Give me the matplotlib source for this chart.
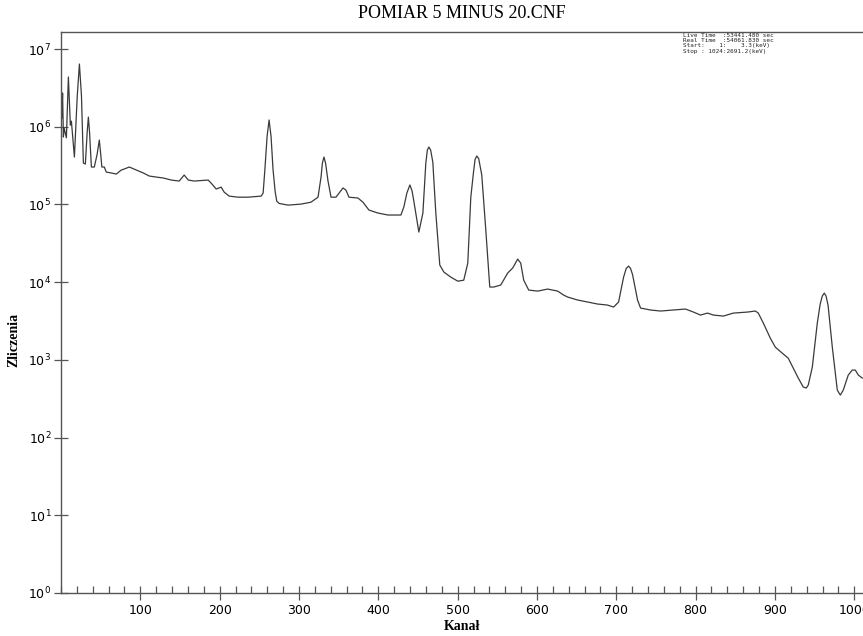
import matplotlib
matplotlib.use("Agg")
import matplotlib.pyplot as plt
from matplotlib.ticker import MultipleLocator, LogLocator, NullLocator

# spectrum (channel, counts)
channel = [1, 2, 3, 4, 6.8, 9.3, 11.8, 13.1, 16.9, 20.5, 23.2, 25.8, 28.2, 30.7, 33, 34.5,
           36, 38.3, 42, 45.5, 48.3, 50, 51.5, 54.6, 57, 63.4, 69.7, 76, 79.8, 86.1, 94.9,
           103.7, 111.3, 120.1, 128.9,
           139, 149, 155.3, 160.4, 168, 185.5, 189.3, 195.6, 201.9, 205.7, 212, 223.3,
           235.9, 252.3, 254.8, 257, 259.8, 262.3, 264.8, 267.3, 270, 272, 275, 286.2,
           302.6, 315.2, 324, 327.8, 329.5, 331.5, 333.5, 336.6, 340.4, 346.6, 355.5,
           359.2, 363, 374.3,
           380.6, 388.2, 399.5, 412.1, 428.5, 432.2, 436, 439.8, 442.5, 444.8, 451.1,
           456.2, 459.9, 461.8, 463.7, 466, 468.7, 472.5, 477.5, 482.6, 491.4, 500.2,
           507.7, 512.8, 516.6, 520, 522, 524.1, 526.5, 530.4, 535.5, 540.5, 545.5, 554.3,
           563.1, 569.4, 575.7, 579.5, 583.3, 589.6,
           600.9, 613.5, 626.1, 633.6, 638.7, 651.3, 663.9, 676.4, 689, 696.6, 702.9,
           709.2, 712.5, 715.5, 718, 720.5, 726.8, 730.6, 743.2, 755.8, 772.1, 787.2,
           797.3, 806.1, 814.9, 822.5, 835, 847.6, 865.2, 875.3, 879, 885.3, 894.1, 900.4,
           909.2, 916.8, 923.1, 929.4, 935.7, 939.5, 942, 947.1, 953.4, 957, 959.6, 962.2,
           964.5, 967, 972.3, 978.6, 982.4, 986.1, 992.4, 997.5, 1001.3, 1005.1, 1010.1]
counts = [1.29e6, 2.72e6, 7.37e5, 9.6e5, 7.2e5, 4.36e6, 1.05e6, 1.18e6, 4.07e5, 2.5e6,
          6.41e6, 2.5e6, 3.41e5, 3.31e5, 8.5e5, 1.33e6, 8.5e5, 3.03e5, 3.03e5, 4.4e5,
          6.74e5, 4.5e5, 3.03e5, 3.03e5, 2.61e5, 2.54e5, 2.46e5, 2.77e5, 2.86e5, 3.03e5,
          2.77e5, 2.54e5, 2.32e5, 2.25e5, 2.19e5,
          2.06e5, 2.0e5, 2.39e5, 2.06e5, 2.0e5, 2.06e5, 1.88e5, 1.58e5, 1.67e5, 1.44e5,
          1.28e5, 1.24e5, 1.24e5, 1.28e5, 1.40e5, 2.8e5, 7.5e5, 1.22e6, 7.5e5, 2.8e5,
          1.45e5, 1.1e5, 1.03e5, 9.8e4, 1.01e5, 1.07e5, 1.24e5, 2.25e5, 3.4e5, 4.07e5,
          3.4e5, 2.0e5, 1.24e5, 1.24e5, 1.63e5, 1.53e5, 1.24e5, 1.21e5,
          1.07e5, 8.47e4, 7.75e4, 7.31e4, 7.31e4, 9.27e4, 1.4e5, 1.78e5, 1.5e5, 1.1e5,
          4.41e4, 7.75e4, 3.41e5, 5.0e5, 5.48e5, 5.0e5, 3.5e5, 7.75e4, 1.66e4, 1.35e4,
          1.16e4, 1.03e4, 1.06e4, 1.76e4, 1.24e5, 2.6e5, 3.8e5, 4.2e5, 3.9e5, 2.4e5,
          4.69e4, 8.65e3, 8.65e3, 9.18e3, 1.31e4, 1.52e4, 1.98e4, 1.76e4, 1.06e4, 7.91e3,
          7.67e3, 8.15e3, 7.67e3, 6.82e3, 6.43e3, 5.89e3, 5.55e3, 5.23e3, 5.07e3, 4.78e3,
          5.55e3, 1.16e4, 1.5e4, 1.61e4, 1.5e4, 1.25e4, 5.89e3, 4.64e3, 4.38e3, 4.25e3,
          4.38e3, 4.51e3, 4.12e3, 3.77e3, 4.0e3, 3.77e3, 3.66e3, 4.0e3, 4.12e3, 4.25e3,
          4.0e3, 2.98e3, 1.91e3, 1.46e3, 1.22e3, 1.05e3, 784, 583, 447, 434, 474, 807,
          2.98e3, 5.2e3, 6.6e3, 7.24e3, 6.6e3, 5.0e3, 1.46e3, 408, 352, 408, 637, 739,
          739, 637, 583]

title = "POMIAR 5 MINUS 20.CNF"
info_lines = ["Live Time  :53441.480 sec",
              "Real Time  :54061.830 sec",
              "Start:    1:    3.3(keV)",
              "Stop : 1024:2691.2(keV)"]

fig = plt.figure(figsize=(8.63, 6.36), dpi=100)
ax = fig.add_axes([61 / 863, 43 / 636, 1 - 61 / 863, (593 - 32) / 636])

ax.plot(channel, counts, color="#3a3a3a", linewidth=0.9)
ax.set_yscale("log")
ax.set_xlim(0, 1011)
ax.set_ylim(1, 10 ** 7.219)

ax.xaxis.set_major_locator(MultipleLocator(100))
ax.xaxis.set_minor_locator(MultipleLocator(20))
ax.yaxis.set_major_locator(LogLocator(base=10, numticks=10))
ax.yaxis.set_minor_locator(NullLocator())
ax.set_xticks([100, 200, 300, 400, 500, 600, 700, 800, 900, 1000])

ax.tick_params(axis="x", which="major", direction="inout", length=10, width=0.9,
               color="#555555", labelsize=9, pad=3)
ax.tick_params(axis="x", which="minor", direction="in", length=5, width=0.9, color="#555555")
ax.tick_params(axis="y", which="major", direction="inout", length=10, width=0.9,
               color="#555555", labelsize=9, pad=2)

for s in ["left", "bottom", "top"]:
    ax.spines[s].set_color("#555555")
    ax.spines[s].set_linewidth(1.0)
ax.spines["right"].set_visible(False)

fig.text(462 / 863, 1 - 14 / 636, title, ha="center", va="center",
         family="Liberation Serif", fontsize=13)
fig.text(462 / 863, 1 - 626 / 636, "Kanał", ha="center", va="center",
         family="Liberation Serif", fontweight="bold", fontsize=10)
fig.text(14 / 863, 1 - 340 / 636, "Zliczenia", rotation=90, ha="center", va="center",
         family="Liberation Serif", fontweight="bold", fontsize=10)

fig.text(683 / 863, 1 - 33 / 636, "\n".join(info_lines), ha="left", va="top",
         family="DejaVu Sans Mono", fontsize=4.3, linespacing=1.05, color="#222222")

plt.savefig("out.png", dpi=100)
plt.close()
